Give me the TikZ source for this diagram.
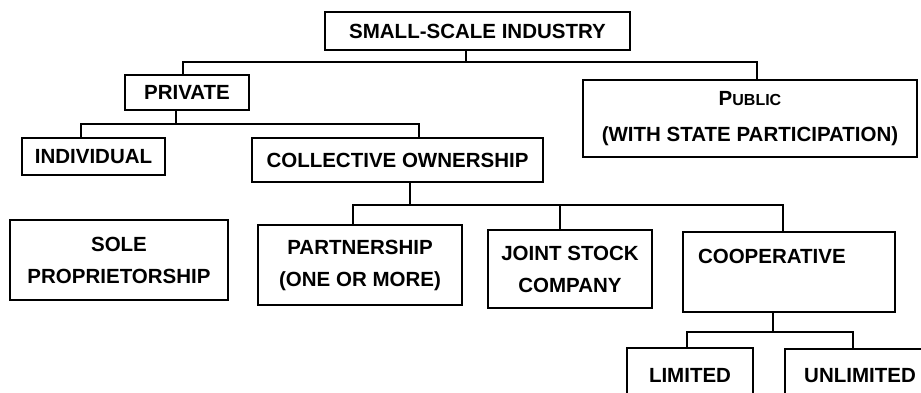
\documentclass[tikz,border=0pt]{standalone}
\usepackage{fontspec}
\setmainfont{Liberation Sans}
\usetikzlibrary{positioning}
\tikzset{%
  link/.style={line width=2pt},
  unit/.style={draw, line width=2pt, align=center, inner sep=0pt, anchor=center,
    font=\bfseries\fontsize{20.5}{32}\selectfont},
  dims/.style 2 args={minimum width=#1pt, minimum height=#2pt}
}

\begin{document}
\begin{tikzpicture}[x=1pt, y=-1pt]

 \useasboundingbox (0,0) rectangle (921,392);

 \node[unit, dims={305}{38}] (ssi) at (477.5,31) {SMALL-SCALE INDUSTRY};
 \node[unit, dims={124}{35}] (private) at (187,92.5) {PRIVATE};
 \node[unit, dims={334}{77}, font=\bfseries\fontsize{20.5}{36}\selectfont] (public) at (750,118.5)
   {P{\fontsize{16}{36}\selectfont UBLIC}\\(WITH STATE PARTICIPATION)};

 \node[unit, dims={143}{37}] (individual) at (93.5,156.5) {INDIVIDUAL};
 \node[unit, dims={291}{44}] (collective) at (397.5,160) {COLLECTIVE OWNERSHIP};

 \node[unit, dims={218}{80}] (sole) at (119,260) {SOLE\\PROPRIETORSHIP};
 \node[unit, dims={204}{80}] (partner) at (360,265) {PARTNERSHIP\\(ONE OR MORE)};
 \node[unit, dims={164}{78}] (joint) at (570,269) {JOINT STOCK\\COMPANY};
 \node[unit, dims={212}{80}, align=left, text width=182pt] (coop) at (789,272) {COOPERATIVE\\~};

 \node[unit, dims={126}{54}] (limited) at (690,375) {LIMITED};
 \node[unit, dims={150}{54}] (unlimited) at (860,376) {UNLIMITED};

 % junctions under each parent
 \coordinate (jssi) at (466,62);
 \coordinate (jpriv) at (176,124);
 \coordinate (jcoll) at (410,205);
 \coordinate (jcoop) at (773,332);

 \draw[link] (ssi.south -| jssi) -- (jssi);
 \draw[link] ([xshift=-4pt]private.north) |- (jssi) -| ([xshift=7pt]public.north);

 \draw[link] (private.south -| jpriv) -- (jpriv);
 \draw[link] ([xshift=-12.5pt]individual.north) |- (jpriv) -| ([xshift=21.5pt]collective.north);

 \draw[link] (collective.south -| jcoll) -- (jcoll);
 \draw[link] ([xshift=-7pt]partner.north) |- (jcoll) -| ([xshift=-6pt]coop.north);
 \draw[link] ([xshift=-10pt]joint.north) |- (jcoll);

 \draw[link] (coop.south -| jcoop) -- (jcoop);
 \draw[link] ([xshift=-3pt]limited.north) |- (jcoop) -| ([xshift=-7pt]unlimited.north);

\end{tikzpicture}
\end{document}
